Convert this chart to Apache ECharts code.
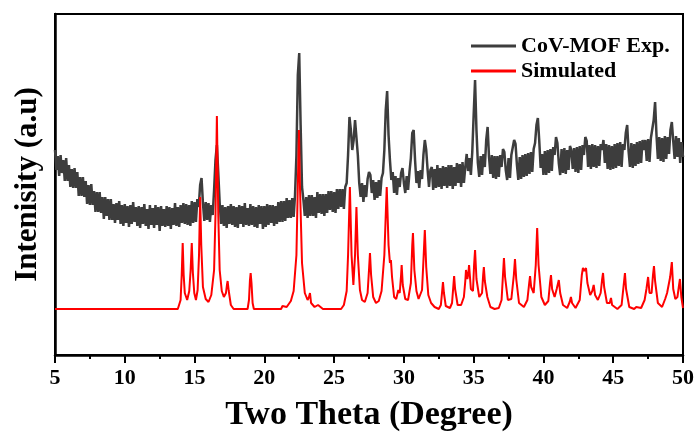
<!DOCTYPE html>
<html>
<head>
<meta charset="utf-8">
<script src="https://cdn.jsdelivr.net/npm/echarts@6/dist/echarts.min.js"></script>
<style>html,body{margin:0;padding:0;background:#fff;}#c{width:700px;height:437px;}</style>
</head>
<body>
<div id="c"></div>
<script>
// X tick labels
const xTicks = [5, 10, 15, 20, 25, 30, 35, 40, 45, 50];
// Experimental pattern: sampled from 5° to 50° in 0.1° steps (arbitrary intensity units)
const expStart = 5.0;
const expStep = 0.1;
const expIntensity = [
205,185,199,179,200,182,195,174,197,174,
190,168,186,167,187,167,183,159,178,159,
178,158,174,151,170,150,171,150,164,143,
163,143,163,142,158,136,158,139,156,135,
156,135,151,132,152,135,154,131,150,129,
151,132,149,128,150,131,153,133,148,129,
149,127,148,131,151,129,146,126,150,130,
147,127,150,130,148,124,149,129,146,128,
149,129,148,126,147,130,152,129,148,128,
150,132,152,131,151,130,150,129,154,132,
153,133,156,148,170,177,152,134,153,135,
152,133,150,140,165,195,210,182,152,131,
150,129,148,127,149,131,151,130,149,128,
148,127,150,131,149,128,152,130,147,129,
151,130,149,128,148,127,150,131,149,126,
149,128,151,130,150,132,150,129,149,131,
153,133,154,133,154,134,157,137,155,137,
157,138,160,200,280,302,230,168,155,139,
158,137,160,139,160,139,158,137,163,142,
161,141,161,139,161,142,164,145,164,143,
163,142,166,146,166,148,166,146,168,172,
200,238,225,205,215,235,237,200,172,158,
172,153,170,158,176,183,180,162,175,155,
173,157,175,159,177,182,205,245,264,220,
195,175,183,162,179,160,177,168,182,187,
172,162,179,165,183,197,222,225,195,172,
184,167,185,176,200,215,205,185,168,185,
188,165,186,167,190,168,187,166,189,169,
188,167,190,169,190,166,188,169,192,172,
191,168,193,172,188,201,184,197,180,203,
240,275,225,192,178,199,180,201,188,215,
228,198,181,200,177,199,176,199,178,200,
188,206,203,185,175,197,177,200,201,215,
211,190,175,198,176,200,178,201,179,202,
181,203,183,206,212,230,237,214,187,201,
180,204,180,205,182,206,184,208,200,218,
212,192,180,206,182,207,181,205,185,209,
205,186,207,183,208,182,209,185,210,200,
218,214,188,210,186,211,188,210,187,209,
189,211,205,215,192,211,186,210,185,209,
186,211,187,212,189,213,188,211,205,222,
230,204,188,212,187,211,189,213,191,214,
192,215,205,215,194,216,193,217,215,235,
253,220,196,218,194,217,193,219,196,218,
201,225,233,214,196,219,198,217,192,213,
198
];
// Simulated pattern: [2θ, intensity] pairs
const simX = [5,13.8,13.9,14.0,14.08,14.15,14.22,14.3,14.47,14.62,14.72,14.8,14.88,14.98,15.1,15.22,15.32,15.4,15.48,15.6,15.8,16.0,16.2,16.4,16.5,16.6,16.7,16.8,16.95,17.1,17.25,17.32,17.37,17.45,17.6,17.8,18.8,18.9,18.97,19.02,19.08,19.16,19.25,21.2,21.3,21.35,21.42,21.6,21.9,22.1,22.3,22.4,22.48,22.56,22.7,22.9,23.1,23.2,23.27,23.35,23.6,23.85,23.9,23.96,24.2,25.5,25.7,25.9,26.0,26.13,26.25,26.38,26.5,26.6,26.7,26.85,27.0,27.2,27.4,27.5,27.57,27.65,27.8,28.0,28.2,28.4,28.6,28.77,28.9,29.0,29.07,29.15,29.3,29.45,29.55,29.6,29.7,29.8,29.84,29.92,30.1,30.3,30.5,30.6,30.65,30.75,30.9,31.05,31.15,31.3,31.42,31.5,31.6,31.75,31.95,32.2,32.5,32.65,32.75,32.8,32.87,33.0,33.3,33.45,33.55,33.6,33.67,33.85,34.1,34.3,34.4,34.45,34.55,34.62,34.67,34.8,34.95,35.03,35.1,35.2,35.4,35.6,35.68,35.73,35.8,35.9,35.98,36.2,36.5,36.8,37.0,37.1,37.17,37.25,37.45,37.7,37.88,37.96,38.05,38.25,38.6,38.85,38.98,39.04,39.12,39.3,39.45,39.55,39.65,39.85,40.1,40.35,40.47,40.54,40.62,40.8,40.95,41.05,41.1,41.2,41.4,41.7,41.88,41.97,42.05,42.3,42.6,42.75,42.83,42.95,43.05,43.15,43.35,43.5,43.6,43.7,43.9,44.1,44.2,44.27,44.35,44.55,44.75,44.84,44.92,45.3,45.6,45.75,45.84,45.92,46.15,46.5,46.65,46.7,46.76,47.0,47.25,47.38,47.5,47.6,47.75,47.85,47.92,48.0,48.2,48.5,48.72,48.86,48.95,49.08,49.2,49.3,49.45,49.6,49.7,49.78,49.88,50.0];
const simY = [46,46,48,55,80,112,80,62,55,64,85,112,82,62,55,65,100,158,110,68,56,53,60,85,140,239,140,85,64,58,62,70,74,64,50,46,46,55,75,82,72,52,46,46,49,51,48,48,54,64,100,170,225,165,92,62,55,58,62,52,48,50,51,48,46,46,50,64,100,168,100,70,100,148,100,65,55,53,62,85,102,80,58,52,54,64,100,168,110,92,95,78,58,56,62,65,62,80,90,70,56,55,72,110,122,85,64,56,58,65,100,125,88,60,52,48,46,50,65,73,62,49,47,52,70,79,66,50,50,58,74,85,76,82,90,66,64,90,105,76,58,62,80,88,74,72,58,48,46,47,55,80,97,78,55,56,80,96,76,52,48,55,72,79,68,62,90,127,90,58,50,54,72,80,66,58,66,72,75,62,50,47,53,58,52,47,55,80,87,84,87,72,60,64,70,60,55,62,75,82,68,52,52,57,50,46,50,70,82,66,48,46,48,50,47,47,55,66,78,62,62,80,89,74,52,48,56,62,60,78,93,66,56,58,68,76,58,47];

const expData = expIntensity.map((v, i) => [+(expStart + i * expStep).toFixed(2), v]);
const simData = simX.map((x, i) => [x, simY[i]]);

const serif = '"Liberation Serif", "Times New Roman", "DejaVu Serif", serif';
const chart = echarts.init(document.getElementById('c'), null, {renderer: 'canvas'});
chart.setOption({
  animation: false,
  backgroundColor: '#ffffff',
  grid: {left: 55, right: 17, top: 14, bottom: 82, show: true, borderColor: '#000', borderWidth: 2, backgroundColor: 'transparent'},
  legend: {
    orient: 'vertical', left: 466, top: 30, icon: 'rect', itemWidth: 45, itemHeight: 3, itemGap: 3,
    textStyle: {fontFamily: serif, fontWeight: 'bold', fontSize: 22, color: '#000', lineHeight: 22},
    data: ['CoV-MOF Exp.', 'Simulated']
  },
  xAxis: {
    type: 'value', min: 5, max: 50, interval: 5,
    name: 'Two Theta (Degree)', nameLocation: 'middle', nameGap: 43,
    nameTextStyle: {fontFamily: serif, fontWeight: 'bold', fontSize: 34, color: '#000'},
    axisLine: {show: true, onZero: false, lineStyle: {color: '#000', width: 2.5}},
    axisTick: {show: true, inside: false, length: 8, lineStyle: {color: '#000', width: 2}},
    minorTick: {show: true, splitNumber: 2, length: 4, lineStyle: {color: '#000', width: 2}},
    axisLabel: {fontFamily: serif, fontWeight: 'bold', fontSize: 22, color: '#000', margin: 12,
      formatter: v => xTicks.indexOf(v) >= 0 ? String(v) : ''},
    splitLine: {show: false}
  },
  yAxis: {
    type: 'value', min: 0, max: 341,
    name: 'Intenisity (a.u)', nameLocation: 'middle', nameGap: 12, nameRotate: 90,
    nameTextStyle: {fontFamily: serif, fontWeight: 'bold', fontSize: 31, color: '#000'},
    axisLine: {show: true, lineStyle: {color: '#000', width: 2.5}},
    axisTick: {show: false}, axisLabel: {show: false}, splitLine: {show: false}
  },
  series: [
    {name: 'CoV-MOF Exp.', type: 'line', data: expData, symbol: 'none', z: 2,
     lineStyle: {color: '#3d3d3d', width: 2.5}, itemStyle: {color: '#3d3d3d'}},
    {name: 'Simulated', type: 'line', data: simData, symbol: 'none', z: 3,
     lineStyle: {color: '#ff0000', width: 2}, itemStyle: {color: '#ff0000'}}
  ]
});
</script>
</body>
</html>
